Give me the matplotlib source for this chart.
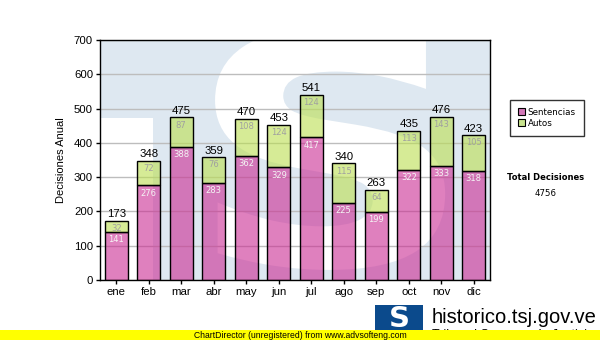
import matplotlib
matplotlib.use("Agg")
import matplotlib.pyplot as plt
import matplotlib.transforms as mtransforms
from matplotlib.patches import Rectangle, PathPatch, Patch
from matplotlib.textpath import TextPath
from matplotlib.font_manager import FontProperties
import numpy as np

months = ["ene", "feb", "mar", "abr", "may", "jun",
          "jul", "ago", "sep", "oct", "nov", "dic"]
sentencias = [141, 276, 388, 283, 362, 329, 417, 225, 199, 322, 333, 318]
autos = [32, 72, 87, 76, 108, 124, 124, 115, 64, 113, 143, 105]

PINK = (203/255, 43/255, 147/255, 0.6)
GREEN = (187/255, 223/255, 80/255, 0.6)
WATERMARK = "#dee8f1"

totals = [s + a for s, a in zip(sentencias, autos)]
x = np.arange(len(months))

fig = plt.figure(figsize=(6, 3.4), dpi=100)
ax = fig.add_axes([100/600, 60/340, 390/600, 240/340])

# pale logo behind the plot area
ax.add_patch(Rectangle((0, 0), 1, 1, transform=ax.transAxes,
                       fc=WATERMARK, ec="none", zorder=0.5))
ax.add_patch(Rectangle((0, 0), 0.136, 0.675, transform=ax.transAxes,
                       fc="white", ec="none", zorder=0.6))
tp = TextPath((0, 0), "S", size=1,
              prop=FontProperties(family="DejaVu Sans", weight="bold"))
ext = tp.get_extents()
sx0, sx1, sy0, sy1 = 0.295, 0.885, 0.042, 1.05
tr = (mtransforms.Affine2D()
      .translate(-ext.x0, -ext.y0)
      .scale((sx1 - sx0) / ext.width, (sy1 - sy0) / ext.height)
      .translate(sx0, sy0)) + ax.transAxes
ax.add_patch(PathPatch(tp, transform=tr, fc="white", ec="none", zorder=0.6))

ax.bar(x, sentencias, width=0.72, color=PINK, edgecolor="black", lw=1, zorder=3)
ax.bar(x, autos, width=0.72, bottom=sentencias, color=GREEN,
       edgecolor="black", lw=1, zorder=3)

for i in range(len(months)):
    ax.annotate(str(sentencias[i]), (x[i], sentencias[i]), xytext=(0, -2.5),
                textcoords="offset points", ha="center", va="top",
                fontsize=6, color="#f4f4f4", family="DejaVu Sans", zorder=4)
    ax.annotate(str(autos[i]), (x[i], totals[i]), xytext=(0, -2.5),
                textcoords="offset points", ha="center", va="top",
                fontsize=6, color="#a0a0a0", family="DejaVu Sans", zorder=4)
    ax.annotate(str(totals[i]), (x[i], totals[i]), xytext=(0, 1),
                textcoords="offset points", ha="center", va="bottom",
                fontsize=8.2, color="black", family="Liberation Sans", zorder=4)

ax.set_xlim(-0.5, len(months) - 0.5)
ax.set_ylim(0, 700)
ax.set_yticks(range(0, 701, 100))
ax.set_xticks(x)
ax.set_xticklabels(months)
ax.yaxis.grid(True, color="#bdbdbd", lw=1)
ax.tick_params(length=3, width=1, labelsize=8.2, pad=2)
for lab in ax.get_xticklabels() + ax.get_yticklabels():
    lab.set_family("Liberation Sans")
for sp in ax.spines.values():
    sp.set_color("black")
    sp.set_linewidth(1)
ax.set_ylabel("Decisiones Anual", fontsize=8, family="Liberation Sans", labelpad=6)

handles = [Patch(fc="#d277b8", ec="black", lw=0.8, label="Sentencias"),
           Patch(fc="#c8e48e", ec="black", lw=0.8, label="Autos")]
leg = fig.legend(handles=handles, loc="upper left",
                 bbox_to_anchor=(510/600, 1 - 100/340), fontsize=6.3,
                 frameon=True, fancybox=False, edgecolor="black",
                 borderaxespad=0, handlelength=0.8, handleheight=0.8,
                 handletextpad=0.3, labelspacing=0.2, borderpad=0.9)
leg.get_frame().set_linewidth(1)

fig.text(546/600, 1 - 178/340, "Total Decisiones", ha="center", va="center",
         fontsize=6, weight="bold", family="DejaVu Sans")
fig.text(546/600, 1 - 194/340, str(sum(totals)), ha="center", va="center",
         fontsize=6.2, family="DejaVu Sans")

# site banner, partly hidden under the footer strip
fig.patches.append(Rectangle((375/600, 1 - 340/340), 48/600, 35/340,
                             transform=fig.transFigure, fc="#0b4a8c",
                             ec="none", zorder=3))
fig.text(399/600, 1 - 319/340, "S", ha="center", va="center", fontsize=21,
         weight="bold", color="white", family="DejaVu Sans", zorder=4)
fig.text(432/600, 1 - 323/340, "historico.tsj.gov.ve", ha="left",
         va="baseline", fontsize=14.5, family="Liberation Sans", zorder=5)
fig.text(432/600, 1 - 338/340, "Tribunal Supremo de Justicia", ha="left",
         va="baseline", fontsize=9, family="Liberation Sans", zorder=5)
fig.patches.append(Rectangle((0, 0), 1, 10/340, transform=fig.transFigure,
                             fc="#ffff00", ec="none", zorder=6))
fig.text(0.5, 5/340, "ChartDirector (unregistered) from www.advsofteng.com",
         ha="center", va="center", fontsize=6.2, family="Liberation Sans", zorder=7)

fig.savefig("out.png", dpi=100)
